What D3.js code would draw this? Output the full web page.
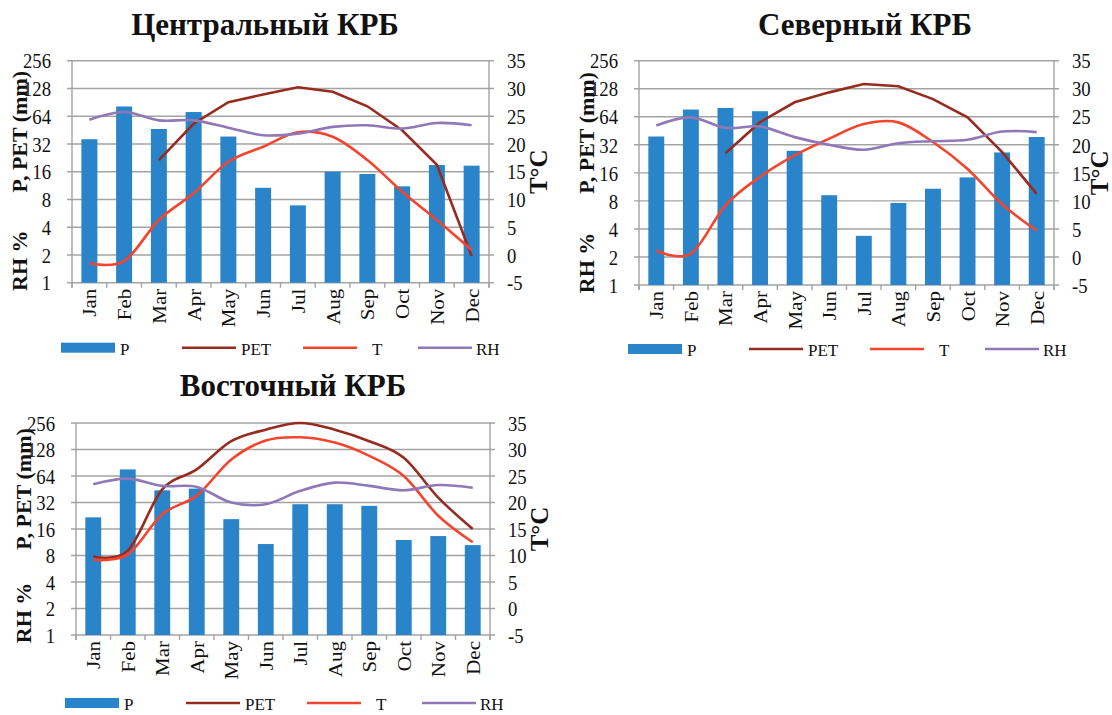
<!DOCTYPE html>
<html>
<head>
<meta charset="utf-8">
<script src="https://cdn.jsdelivr.net/npm/d3@7"></script>
<style>
  body { margin: 0; background: #fff; }
</style>
</head>
<body>
<div id="chart"></div>
<script>
// DATA - - - - - - - - - - - - - - - - - - - - - - - - - - - - - - - - - - - - - - - - - - - - -
var months = ["Jan", "Feb", "Mar", "Apr", "May", "Jun", "Jul", "Aug", "Sep", "Oct", "Nov", "Dec"]

var leftTicks = [1, 2, 4, 8, 16, 32, 64, 128, 256]
var rightTicks = [-5, 0, 5, 10, 15, 20, 25, 30, 35]
var seriesNames = ["P", "PET", "T", "RH"]

// Центральный КРБ
var pCentral   = [36, 81.6, 46.5, 71, 38.5, 10.7, 6.9, 16, 15.1, 11.1, 18.9, 18.6]
var petCentral = [null, null, 21.4, 53, 91, 110, 132, 118, 82, 45, 19, 1.95]
var tCentral   = [-1.5, -1.1, 6.3, 11.1, 16.8, 19.5, 22.1, 21.3, 17.1, 11.4, 6.3, 0.9]
var rhCentral  = [58.6, 71, 57.7, 57.7, 48, 39.8, 41.4, 49, 51, 47, 54, 51]

// Северный КРБ
var pNorth   = [39.3, 76.5, 79.6, 73.4, 27.6, 9.2, 3.37, 7.6, 10.8, 14.3, 26.5, 38.8]
var petNorth = [null, null, 26, 56, 91.5, 117, 144, 136, 99, 63, 26.7, 9.5]
var tNorth   = [1.1, 0.6, 9.2, 14.3, 18.1, 21.1, 23.7, 24.0, 20.5, 15.7, 9.4, 4.7]
var rhNorth  = [51.6, 63, 48.6, 50.3, 38.7, 32, 28.3, 33.3, 35, 36.2, 44.4, 43.8]

// Восточный КРБ
var pEast   = [21.7, 76, 44, 46, 20.7, 10.8, 30.6, 30.6, 29.3, 12, 13.3, 10.5]
var petEast = [7.8, 9.1, 45, 76, 159, 215, 256, 215, 159, 103, 36.4, 16]
var tEast   = [9.2, 10.2, 17.8, 21.3, 28.1, 31.7, 32.3, 31.3, 28.8, 25, 17.5, 12.5]
var rhEast  = [51.6, 59.7, 49.4, 48.1, 32, 30.6, 43.4, 53.8, 49.4, 44, 50.6, 47]

// STYLE / LAYOUT - - - - - - - - - - - - - - - - - - - - - - - - - - - - - - - - - - - - - - - -
var colors = { P: "#2A84C9", PET: "#962C20", T: "#F3452D", RH: "#9078B6" }
var gridColor = "#A3A3A3"
var serif = "Liberation Serif"

var panels = [
  { title: "Центральный КРБ", titleX: 265, titleY: 35, tcX: 58,
    left: 72, right: 489, top: 60.7, bottom: 282.7, legendDy: 65,
    p: pCentral, pet: petCentral, t: tCentral, rh: rhCentral, petSmooth: false },
  { title: "Северный КРБ", titleX: 865, titleY: 35, tcX: 54,
    left: 639, right: 1054, top: 60.7, bottom: 285, legendDy: 64,
    p: pNorth, pet: petNorth, t: tNorth, rh: rhNorth, petSmooth: false },
  { title: "Восточный КРБ", titleX: 293, titleY: 396, tcX: 58,
    left: 76, right: 490, top: 423, bottom: 635, legendDy: 68,
    p: pEast, pet: petEast, t: tEast, rh: rhEast, petSmooth: true }
]

// legend item offsets from plot left edge, and text gaps
var legendX = [-11, 110, 231, 346]
var legendTextGap = [5, 5, 15, 4]
var legendW = 54

var svg = d3.select("#chart").append("svg")
    .attr("width", 1112)
    .attr("height", 715)

panels.forEach(drawPanel)

function drawPanel(cfg) {

    var g = svg.append("g")
        .attr("font-family", serif)
        .attr("fill", "#111")

    var x = d3.scaleBand()
        .domain(months)
        .range([cfg.left, cfg.right])
        .paddingInner(0.54)
        .paddingOuter(0.27)

    var yL = d3.scaleLog().base(2)
        .domain([1, 256])
        .range([cfg.bottom, cfg.top])

    var yR = d3.scaleLinear()
        .domain([-5, 35])
        .range([cfg.bottom, cfg.top])

    var cx = function(m) { return x(m) + x.bandwidth() / 2 }

    // title
    g.append("text")
        .attr("x", cfg.titleX)
        .attr("y", cfg.titleY)
        .attr("text-anchor", "middle")
        .attr("font-size", 31)
        .attr("font-weight", "bold")
        .text(cfg.title)

    // gridlines (with tick stubs on both sides)
    g.append("g").selectAll("line")
        .data(leftTicks)
      .enter().append("line")
        .attr("x1", cfg.left - 5)
        .attr("x2", cfg.right + 5)
        .attr("y1", d => yL(d))
        .attr("y2", d => yL(d))
        .attr("stroke", gridColor)
        .attr("stroke-width", 1.4)

    // vertical axis lines
    g.append("line")
        .attr("x1", cfg.left).attr("x2", cfg.left)
        .attr("y1", cfg.top).attr("y2", cfg.bottom + 5)
        .attr("stroke", gridColor).attr("stroke-width", 1.4)
    g.append("line")
        .attr("x1", cfg.right).attr("x2", cfg.right)
        .attr("y1", cfg.top).attr("y2", cfg.bottom + 5)
        .attr("stroke", gridColor).attr("stroke-width", 1.4)

    // x tick marks at category boundaries
    var bounds = months.map(m => x(m) - x.step() * x.paddingInner() / 2)
    bounds.push(cfg.right)
    g.append("g").selectAll("line")
        .data(bounds)
      .enter().append("line")
        .attr("x1", d => d).attr("x2", d => d)
        .attr("y1", cfg.bottom).attr("y2", cfg.bottom + 5)
        .attr("stroke", gridColor).attr("stroke-width", 1.4)

    // left tick labels
    g.append("g").selectAll("text")
        .data(leftTicks)
      .enter().append("text")
        .attr("transform", d => "translate(" + (cfg.left - 21) + "," + yL(d) + ") scale(0.85,1)")
        .attr("dy", "0.35em")
        .attr("text-anchor", "end")
        .attr("font-size", 22)
        .text(d => d)

    // right tick labels
    g.append("g").selectAll("text")
        .data(rightTicks)
      .enter().append("text")
        .attr("transform", d => "translate(" + (cfg.right + 18) + "," + yR(d) + ") scale(0.85,1)")
        .attr("dy", "0.35em")
        .attr("text-anchor", "start")
        .attr("font-size", 22)
        .text(d => d)

    // month labels (rotated)
    g.append("g").selectAll("text")
        .data(months)
      .enter().append("text")
        .attr("transform", d => "translate(" + (cx(d) + 7) + "," + (cfg.bottom + 6) + ") rotate(-90) scale(1,0.9)")
        .attr("text-anchor", "end")
        .attr("font-size", 21)
        .text(d => d)

    // axis titles
    var midL = (cfg.top + cfg.bottom) / 2
    g.append("text")
        .attr("transform", "translate(" + (cfg.left - 45) + "," + (midL - 40) + ") rotate(-90)")
        .attr("text-anchor", "middle")
        .attr("font-size", 22)
        .attr("font-weight", "bold")
        .text("P, PET (mm)")
    g.append("text")
        .attr("transform", "translate(" + (cfg.left - 45) + "," + (cfg.bottom - 22) + ") rotate(-90)")
        .attr("text-anchor", "middle")
        .attr("font-size", 22)
        .attr("font-weight", "bold")
        .text("RH %")
    g.append("text")
        .attr("transform", "translate(" + (cfg.right + cfg.tcX) + "," + midL + ") rotate(-90)")
        .attr("text-anchor", "middle")
        .attr("font-size", 25)
        .attr("font-weight", "bold")
        .text("T°C")

    // bars
    g.append("g").selectAll("rect")
        .data(cfg.p)
      .enter().append("rect")
        .attr("x", (d, i) => x(months[i]))
        .attr("width", x.bandwidth())
        .attr("y", d => yL(d))
        .attr("height", d => cfg.bottom - yL(d))
        .attr("fill", colors.P)

    var smooth = d3.curveCardinal.tension(0)

    var lineL = function(curve) {
        return d3.line()
            .defined(d => d !== null)
            .x((d, i) => cx(months[i]))
            .y(d => yL(d))
            .curve(curve)
    }
    var lineR = d3.line()
        .x((d, i) => cx(months[i]))
        .y(d => yR(d))
        .curve(smooth)

    // PET line (skip leading missing months)
    var petLine = lineL(cfg.petSmooth ? smooth : d3.curveLinear)
    g.append("path")
        .datum(cfg.pet)
        .attr("d", petLine)
        .attr("fill", "none")
        .attr("stroke", colors.PET)
        .attr("stroke-width", 2.6)

    g.append("path")
        .datum(cfg.t)
        .attr("d", lineR)
        .attr("fill", "none")
        .attr("stroke", colors.T)
        .attr("stroke-width", 2.6)

    g.append("path")
        .datum(cfg.rh)
        .attr("d", lineL(smooth))
        .attr("fill", "none")
        .attr("stroke", colors.RH)
        .attr("stroke-width", 2.6)

    // legend
    var ly = cfg.bottom + cfg.legendDy
    var leg = g.append("g").selectAll("g")
        .data(seriesNames)
      .enter().append("g")
        .attr("transform", (d, i) => "translate(" + (cfg.left + legendX[i]) + "," + ly + ")")

    leg.each(function(d, i) {
        var el = d3.select(this)
        if (d === "P") {
            el.append("rect")
                .attr("x", 0).attr("y", -5)
                .attr("width", legendW).attr("height", 10)
                .attr("fill", colors.P)
        } else {
            el.append("line")
                .attr("x1", 0).attr("x2", legendW)
                .attr("y1", 0).attr("y2", 0)
                .attr("stroke", colors[d])
                .attr("stroke-width", 2.6)
        }
        el.append("text")
            .attr("x", legendW + legendTextGap[i])
            .attr("y", 7)
            .attr("font-size", 17)
            .text(d)
    })
}
</script>
</body>
</html>
